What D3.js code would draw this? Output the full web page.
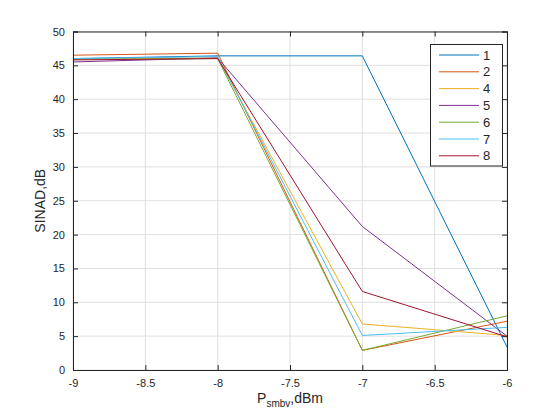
<!DOCTYPE html>
<html>
<head>
<meta charset="utf-8">
<script src="https://cdn.jsdelivr.net/npm/d3@7"></script>
<style>
body { margin: 0; background: #fff; }
text { font-family: "Liberation Sans", Arial, sans-serif; fill: #262626; }
</style>
</head>
<body>
<script>
// Data points
var xValues = [-9, -8, -7, -6];
var seriesNames = ["1", "2", "4", "5", "6", "7", "8"];
var s1 = [46.0, 46.4, 46.4, 3.4];
var s2 = [46.5, 46.8, 2.9, 7.2];
var s4 = [45.9, 46.1, 6.8, 5.1];
var s5 = [45.5, 46.1, 21.2, 5.0];
var s6 = [45.9, 46.0, 2.9, 8.0];
var s7 = [46.0, 46.3, 5.1, 6.3];
var s8 = [45.8, 46.0, 11.6, 4.9];
var allSeries = [s1, s2, s4, s5, s6, s7, s8];
var xTicks = [-9, -8.5, -8, -7.5, -7, -6.5, -6];
var yTicks = [0, 5, 10, 15, 20, 25, 30, 35, 40, 45, 50];

var colors = ["#0072BD", "#D95319", "#EDB120", "#7E2F8E", "#77AC30", "#4DBEEE", "#A2142F"];

var W = 560, H = 420;
var margin = {top: 31.5, right: 53, bottom: 50, left: 73};
var width = W - margin.left - margin.right,
    height = H - margin.top - margin.bottom;

var svg = d3.select("body")
    .append("svg")
    .attr("width", W)
    .attr("height", H);

var g = svg.append("g")
    .attr("transform", `translate(${margin.left},${margin.top})`);

// Scales
var xScale = d3.scaleLinear().domain([-9, -6]).range([0, width]);
var yScale = d3.scaleLinear().domain([0, 50]).range([height, 0]);

// Grid
g.selectAll(".vgrid")
    .data(xTicks)
    .enter()
    .append("line")
    .attr("x1", d => xScale(d)).attr("x2", d => xScale(d))
    .attr("y1", 0).attr("y2", height)
    .attr("stroke", "#dfdfdf").attr("stroke-width", 1);

g.selectAll(".hgrid")
    .data(yTicks)
    .enter()
    .append("line")
    .attr("x1", 0).attr("x2", width)
    .attr("y1", d => yScale(d)).attr("y2", d => yScale(d))
    .attr("stroke", "#dfdfdf").attr("stroke-width", 1);

// Lines
var line = d3.line()
    .x((d, i) => xScale(xValues[i]))
    .y(d => yScale(d));

g.selectAll(".series")
    .data(allSeries)
    .enter()
    .append("path")
    .attr("d", d => line(d))
    .attr("fill", "none")
    .attr("stroke", (d, i) => colors[i])
    .attr("stroke-width", 1);

// Axes (ticks inward, box on)
var xAxis = d3.axisBottom(xScale).tickValues(xTicks).tickSize(-5).tickPadding(9)
    .tickFormat(d3.format("~g"));
var yAxis = d3.axisLeft(yScale).tickValues(yTicks).tickSize(-5).tickPadding(8);

var gx = g.append("g").attr("transform", `translate(0,${height})`).call(xAxis);
var gy = g.append("g").call(yAxis);
var gxt = g.append("g").call(d3.axisTop(xScale).tickValues(xTicks).tickSize(-5).tickFormat(""));
var gyr = g.append("g").attr("transform", `translate(${width},0)`)
    .call(d3.axisRight(yScale).tickValues(yTicks).tickSize(-5).tickFormat(""));

[gx, gy, gxt, gyr].forEach(a => {
    a.selectAll("path, line").attr("stroke", "#262626");
    a.selectAll("text").style("font-size", "11px").attr("fill", "#262626");
});
gx.selectAll("text").text(d => d3.format("~g")(d).replace("−", "-"));
gy.selectAll("text").text(d => d);

// x-axis label
var xl = g.append("text")
    .attr("x", width / 2)
    .attr("y", height + 33)
    .attr("text-anchor", "middle")
    .style("font-size", "14px");
xl.append("tspan").text("P");
xl.append("tspan").attr("dy", 4).style("font-size", "10px").text("smbv");
xl.append("tspan").attr("dy", -4).text(",dBm");

// y-axis label
g.append("text")
    .attr("transform", "rotate(-90)")
    .attr("x", -height / 2)
    .attr("y", -28)
    .attr("text-anchor", "middle")
    .style("font-size", "14px")
    .text("SINAD,dB");

// Legend
var lg = svg.append("g").attr("transform", "translate(430.5,44.5)");
lg.append("rect")
    .attr("width", 72).attr("height", 121.5)
    .attr("fill", "#fff").attr("stroke", "#262626").attr("stroke-width", 1);

var items = lg.selectAll(".item")
    .data(seriesNames)
    .enter()
    .append("g")
    .attr("transform", (d, i) => `translate(0,${10.5 + i * 16.8})`);

items.append("line")
    .attr("x1", 8.5).attr("x2", 48.5)
    .attr("stroke", (d, i) => colors[i])
    .attr("stroke-width", 1);

items.append("text")
    .attr("x", 52.5)
    .attr("y", 4.5)
    .style("font-size", "13px")
    .text(d => d);
</script>
</body>
</html>
